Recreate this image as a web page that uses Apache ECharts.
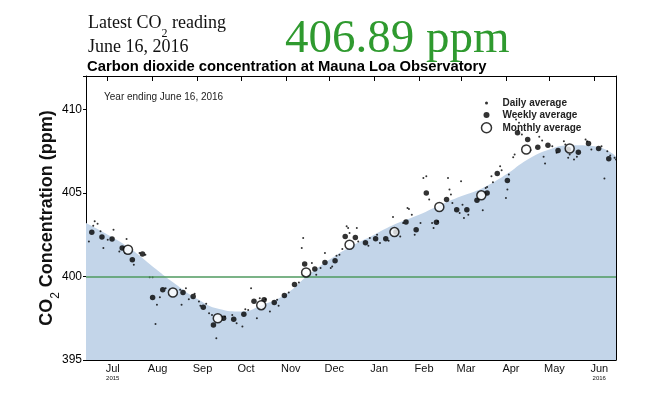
<!DOCTYPE html>
<html>
<head>
<meta charset="utf-8">
<title>Mauna Loa CO2</title>
<script src="https://cdn.jsdelivr.net/npm/echarts@6/dist/echarts.min.js"></script>
</head>
<body style="margin:0">
<div id="main" style="width:660px;height:396px"></div>
<script>
// smoothed seasonal curve (blue fill)
const curveDates = ['2015-06-16','2015-07-01','2015-07-16','2015-08-01','2015-08-16','2015-09-01','2015-09-16',
  '2015-10-01','2015-10-16','2015-11-01','2015-11-16','2015-12-01','2015-12-16','2016-01-01','2016-01-16',
  '2016-02-01','2016-02-16','2016-03-01','2016-03-16','2016-04-01','2016-04-16','2016-05-01','2016-05-16',
  '2016-06-01','2016-06-16'];
const curveValues = [403.2,402.5,401.7,400.6,399.6,398.65,398.05,397.9,398.3,398.95,400.05,401.0,401.8,402.5,403.15,
  403.7,404.3,404.8,405.3,406.1,407.0,407.6,407.85,407.8,407.2];

// daily averages
const dailyDates = ['2015-06-18','2015-06-21','2015-06-22','2015-06-24','2015-06-26','2015-06-28','2015-07-01','2015-07-05',
  '2015-07-09','2015-07-13','2015-07-14','2015-07-19','2015-07-23','2015-07-27','2015-07-30','2015-08-01','2015-08-03',
  '2015-08-04','2015-08-06','2015-08-10','2015-08-13','2015-08-20','2015-08-21','2015-08-24','2015-08-26','2015-08-30',
  '2015-09-02','2015-09-03','2015-09-07','2015-09-09','2015-09-11','2015-09-14','2015-09-17','2015-09-20','2015-09-25',
  '2015-09-28','2015-10-02','2015-10-04','2015-10-06','2015-10-08','2015-10-12','2015-10-14','2015-10-18','2015-10-21',
  '2015-10-26','2015-10-27','2015-11-03','2015-11-10','2015-11-12','2015-11-13','2015-11-19','2015-11-22','2015-11-25',
  '2015-11-28','2015-12-02','2015-12-03','2015-12-06','2015-12-08','2015-12-10','2015-12-13','2015-12-14','2015-12-15',
  '2015-12-20','2015-12-21','2015-12-28','2015-12-29','2016-01-03','2016-01-05','2016-01-11','2016-01-14','2016-01-19',
  '2016-01-21','2016-01-24','2016-01-25','2016-01-27','2016-01-29','2016-02-02','2016-02-04','2016-02-06','2016-02-08',
  '2016-02-10','2016-02-11','2016-02-14','2016-02-21','2016-02-22','2016-02-23','2016-02-24','2016-02-29','2016-03-01',
  '2016-03-02','2016-03-03','2016-03-06','2016-03-16','2016-03-18','2016-03-19','2016-03-22','2016-03-23','2016-03-28',
  '2016-03-29','2016-04-01','2016-04-02','2016-04-03','2016-04-06','2016-04-07','2016-04-08','2016-04-10','2016-04-12',
  '2016-04-14','2016-04-18','2016-04-24','2016-04-26','2016-04-27','2016-04-28','2016-05-03','2016-05-06','2016-05-11',
  '2016-05-12','2016-05-14','2016-05-15','2016-05-18','2016-05-20','2016-05-26','2016-05-27','2016-05-30','2016-06-06',
  '2016-06-08','2016-06-10','2016-06-12','2016-06-15','2016-06-16'];
const dailyValues = [402.1,403.04,403.3,403.16,402.7,401.7,402.2,402.8,
  401.5,401.4,402.24,400.7,401.4,401.3,399.96,399.96,397.16,
  398.3,398.76,399.3,399.2,399.2,398.3,399.3,398.64,398.96,
  398.5,398.24,398.36,397.8,397.7,396.3,397.6,397.6,397.7,
  397.2,397.0,398.04,398.0,399.3,397.5,398.7,398.64,397.9,
  398.6,398.24,399.04,399.64,401.7,402.3,400.8,400.1,400.5,
  401.4,400.5,400.6,401.24,401.3,401.64,403.0,402.9,402.6,
  402.9,402.1,401.84,402.3,402.5,402.0,402.14,403.56,402.4,
  403.2,404.1,404.04,403.7,402.5,403.2,405.9,406.0,404.6,
  403.2,402.9,403.3,405.9,405.2,404.9,404.4,403.8,405.7,
  404.3,403.5,403.7,403.96,405.3,405.36,406.0,405.64,406.6,
  406.36,404.7,405.2,406.1,407.14,407.3,409.4,409.2,408.5,
  407.8,407.56,408.36,408.14,407.16,406.76,407.8,407.4,408.1,
  407.9,407.1,407.3,407.0,407.16,408.2,408.1,407.6,407.8,
  405.86,407.5,407.24,407.1,407.0];

// weekly averages
const weeklyDates = ['2015-06-20','2015-06-27','2015-07-04','2015-07-11','2015-07-18','2015-07-25','2015-08-01','2015-08-08',
  '2015-08-22','2015-08-29','2015-09-05','2015-09-12','2015-09-19','2015-09-26','2015-10-03','2015-10-10','2015-10-17',
  '2015-10-24','2015-10-31','2015-11-07','2015-11-14','2015-11-21','2015-11-28','2015-12-05','2015-12-12','2015-12-19',
  '2015-12-26','2016-01-02','2016-01-09','2016-01-16','2016-01-23','2016-01-30','2016-02-06','2016-02-13','2016-02-20',
  '2016-02-27','2016-03-05','2016-03-12','2016-03-19','2016-03-26','2016-04-02','2016-04-09','2016-04-16','2016-04-23',
  '2016-04-30','2016-05-07','2016-05-14','2016-05-21','2016-05-28','2016-06-04','2016-06-11'];
const weeklyValues = [402.64,402.36,402.24,401.7,401.0,401.34,398.74,399.2,
  399.04,398.8,398.16,397.1,397.5,397.44,397.74,398.52,398.6,
  398.44,398.86,399.52,400.74,400.44,400.84,400.94,402.4,402.34,
  402.02,402.26,402.26,402.66,403.26,402.8,405.0,403.24,404.6,
  404.0,404.0,404.56,405.0,406.16,405.74,408.6,408.2,407.74,
  407.86,407.54,407.6,407.44,407.96,407.66,407.04];

// monthly averages
const monthlyDates = ['2015-07-15','2015-08-15','2015-09-15','2015-10-15','2015-11-15','2015-12-15',
  '2016-01-15','2016-02-15','2016-03-15','2016-04-15','2016-05-15'];
const monthlyValues = [401.6,399.04,397.5,398.28,400.24,401.9,402.66,404.16,404.86,407.6,407.66];

// axis labels
const monthNames = ['Jan','Feb','Mar','Apr','May','Jun','Jul','Aug','Sep','Oct','Nov','Dec'];
const yLabels = [395, 400, 405, 410];

const pairs = (xs, ys) => xs.map((d, i) => [d, ys[i]]);
const sans = 'Liberation Sans';
const serif = 'Liberation Serif';

const chart = echarts.init(document.getElementById('main'));

const axisLine = { lineStyle: { color: '#000', width: 1 } };
const legendText = (pad) => ({ fontFamily: sans, fontSize: 10, fontWeight: 'bold', color: '#222', padding: [0, 0, 0, pad] });

chart.setOption({
  animation: false,
  backgroundColor: '#fff',
  grid: { left: 86, right: 44, top: 76, bottom: 36, show: false },
  legend: [
    { data: [{ name: 'Daily average', icon: 'circle' }], left: 480, top: 93, itemWidth: 3, itemHeight: 3,
      selectedMode: false, textStyle: legendText(9.5) },
    { data: [{ name: 'Weekly average', icon: 'circle' }], left: 478.5, top: 105, itemWidth: 6, itemHeight: 6,
      selectedMode: false, textStyle: legendText(8) },
    { data: [{ name: 'Monthly average', icon: 'circle',
        itemStyle: { color: '#fff', borderColor: '#000', borderWidth: 1.5 } }],
      left: 475.75, top: 117, itemWidth: 10, itemHeight: 10,
      selectedMode: false, textStyle: legendText(6) }
  ],
  xAxis: [
    {
      type: 'time', min: '2015-06-16', max: '2016-06-16', splitNumber: 12,
      minInterval: 28 * 86400000, maxInterval: 31 * 86400000,
      axisLine: axisLine,
      axisTick: { inside: true, length: 5, lineStyle: { color: '#000' } },
      splitLine: { show: false },
      axisLabel: {
        margin: 3, padding: [0, 0, 0, 10], color: '#111', fontFamily: sans, fontSize: 11,
        formatter: function (val) {
          const d = new Date(val);
          let s = monthNames[d.getMonth()];
          if ((d.getFullYear() === 2015 && d.getMonth() === 6) || (d.getFullYear() === 2016 && d.getMonth() === 5)) {
            s += '\n{yr|' + d.getFullYear() + '}';
          }
          return s;
        },
        rich: { yr: { fontSize: 6, fontFamily: sans, color: '#111', lineHeight: 8 } }
      }
    },
    {
      type: 'time', position: 'top', min: '2015-06-16', max: '2016-06-16', splitNumber: 12,
      minInterval: 28 * 86400000, maxInterval: 31 * 86400000,
      axisLine: axisLine,
      axisTick: { inside: true, length: 5, lineStyle: { color: '#000' } },
      axisLabel: { show: false }, splitLine: { show: false }
    }
  ],
  yAxis: [
    {
      type: 'value', min: 395, max: 412, interval: 1, position: 'left',
      axisLine: { show: true, lineStyle: { color: '#000' } },
      axisTick: { inside: true, length: 4, lineStyle: { color: '#000' } },
      axisLabel: { show: false }, splitLine: { show: false },
      name: '{m|CO}{s|2}{m| Concentration (ppm)}', nameLocation: 'middle', nameGap: 24, nameRotate: 90,
      nameTextStyle: {
        rich: {
          m: { fontFamily: sans, fontSize: 18, fontWeight: 'bold', color: '#111', lineHeight: 24, verticalAlign: 'top' },
          s: { fontFamily: sans, fontSize: 12, color: '#111', lineHeight: 12, verticalAlign: 'bottom' }
        }
      }
    },
    {
      type: 'value', min: 395, max: 412, interval: 1, position: 'right',
      axisLine: { show: true, lineStyle: { color: '#000' } },
      axisTick: { inside: true, length: 4, lineStyle: { color: '#000' } },
      axisLabel: { show: false }, splitLine: { show: false }
    },
    {
      type: 'value', min: 395, max: 412, interval: 5, position: 'left',
      axisLine: { show: false },
      axisTick: { show: true, length: 3, lineStyle: { color: '#000' } },
      splitLine: { show: false },
      axisLabel: {
        margin: 4, fontFamily: sans, fontSize: 12, color: '#000',
        formatter: v => (yLabels.indexOf(v) >= 0 ? String(v) : '')
      }
    }
  ],
  series: [
    {
      name: 'fit', type: 'line', smooth: true, symbol: 'none', silent: true,
      data: pairs(curveDates, curveValues),
      lineStyle: { width: 0 },
      areaStyle: { color: '#c3d5e9', origin: 'start', opacity: 1 },
      markLine: {
        silent: true, symbol: 'none', label: { show: false },
        lineStyle: { color: '#4f9a5f', width: 1.5, type: 'solid' },
        data: [{ yAxis: 400 }]
      },
      z: 1
    },
    {
      name: 'Daily average', type: 'scatter', symbol: 'circle', symbolSize: 2,
      data: pairs(dailyDates, dailyValues),
      itemStyle: { color: '#000' }, z: 3
    },
    {
      name: 'Weekly average', type: 'scatter', symbol: 'circle', symbolSize: 5.5,
      data: pairs(weeklyDates, weeklyValues),
      itemStyle: { color: '#000' }, z: 4
    },
    {
      name: 'Monthly average', type: 'scatter', symbol: 'circle', symbolSize: 9,
      data: pairs(monthlyDates, monthlyValues),
      itemStyle: { color: '#fff', borderColor: '#000', borderWidth: 1.5 }, z: 5
    }
  ],
  graphic: [
    { type: 'text', left: 88, top: 14,
      style: { text: '{m|Latest CO}{s|2}{m| reading}', fill: '#111',
        rich: {
          m: { fontFamily: serif, fontSize: 18, lineHeight: 26, verticalAlign: 'top', fill: '#111' },
          s: { fontFamily: serif, fontSize: 12, lineHeight: 12, verticalAlign: 'bottom', fill: '#111' }
        } } },
    { type: 'text', left: 88, top: 38,
      style: { text: 'June 16, 2016', font: '18px "Liberation Serif"', fill: '#111' } },
    { type: 'text', left: 285, top: 16,
      style: { text: '406.89 ppm', font: '47px "Liberation Serif"', fill: '#2f9a2f' } },
    { type: 'text', left: 87, top: 59,
      style: { text: 'Carbon dioxide concentration at Mauna Loa Observatory', font: 'bold 14.8px "Liberation Sans"', fill: '#000' } },
    { type: 'text', left: 104, top: 92,
      style: { text: 'Year ending June 16, 2016', font: '10px "Liberation Sans"', fill: '#222' } },
    {
      type: 'group', left: 511, top: 332,
      children: [
        { type: 'rect', shape: { x: 0, y: 0, width: 93, height: 17 }, style: { fill: '#fff' } },
        { type: 'circle', shape: { cx: 7, cy: 8.5, r: 7 },
          style: { fill: new echarts.graphic.RadialGradient(0.4, 0.35, 0.7, [
            { offset: 0, color: '#8fc3ea' }, { offset: 1, color: '#0d3f8a' }]) } },
        { type: 'text', x: 16, y: 1, style: { text: 'SCRIPPS', font: '8px "Liberation Serif"', fill: '#163b73' } },
        { type: 'text', x: 49, y: 4, style: { text: 'INSTITUTION OF', font: '3px "Liberation Sans"', fill: '#163b73' } },
        { type: 'text', x: 16, y: 8.5, style: { text: 'OCEANOGRAPHY', font: '7px "Liberation Serif"', fill: '#163b73' } },
        { type: 'text', x: 77, y: 11, style: { text: 'UC San Diego', font: '3px "Liberation Sans"', fill: '#163b73' } }
      ]
    }
  ]
});
</script>
</body>
</html>
